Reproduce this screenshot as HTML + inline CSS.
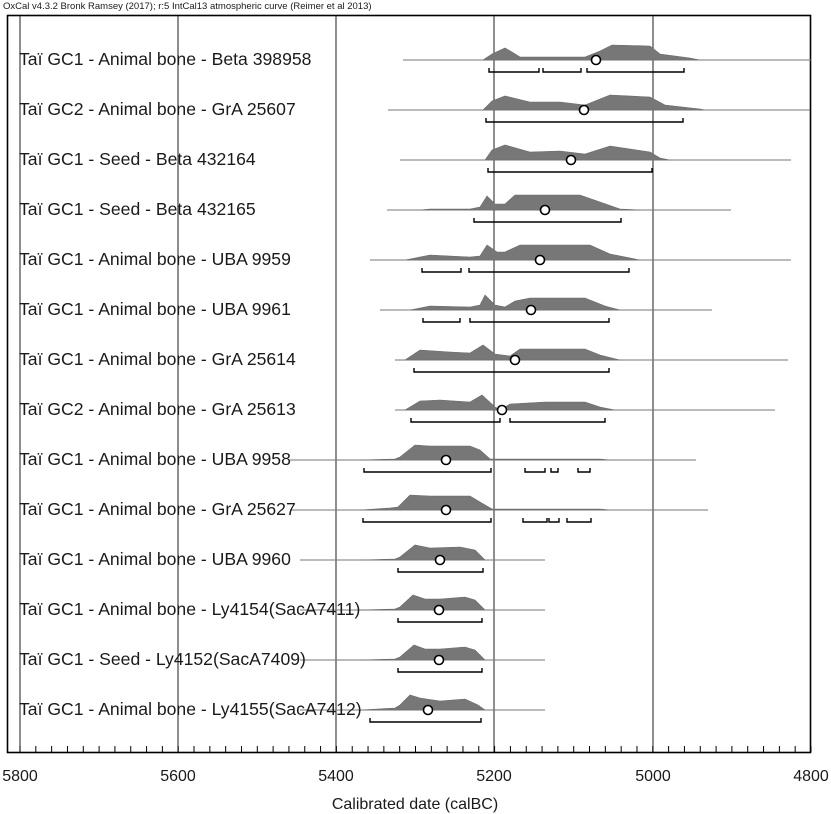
<!DOCTYPE html>
<html><head><meta charset="utf-8"><style>
body{margin:0;background:#fff;width:831px;height:814px;overflow:hidden}
svg{display:block}
text{font-family:"Liberation Sans",Arial,sans-serif;fill:#1a1a1a}
</style></head><body>
<svg id="s" width="831" height="814" xmlns="http://www.w3.org/2000/svg">
<text x="3" y="9" font-size="9.5">OxCal v4.3.2 Bronk Ramsey (2017); r:5 IntCal13 atmospheric curve (Reimer et al 2013)</text>
<rect x="7.5" y="15.5" width="803" height="737" fill="none" stroke="#000" stroke-width="1.6"/>
<g id="grid"></g><g id="rows"></g><g id="ticks"></g>
<g font-size="16" text-anchor="middle">
<text x="20" y="781">5800</text><text x="178" y="781">5600</text><text x="336" y="781">5400</text>
<text x="494" y="781">5200</text><text x="653" y="781">5000</text><text x="811" y="781">4800</text>
</g>
<text x="415" y="809" font-size="16" text-anchor="middle">Calibrated date (calBC)</text>
</svg>
<script>
var NS="http://www.w3.org/2000/svg",s=document.getElementById('s');
function el(p,t,a,txt){var e=document.createElementNS(NS,t);for(var k in a)e.setAttribute(k,a[k]);if(txt)e.textContent=txt;document.getElementById(p).appendChild(e);return e;}
[20,178,336,494,653].forEach(function(x){el('grid','line',{x1:x,x2:x,y1:16,y2:752,stroke:'#333','stroke-width':1.1});});
for(var i=0;i<=50;i++){var x=20+i*15.82;el('ticks','line',{x1:x,x2:x,y1:746,y2:752,stroke:'#000','stroke-width':1});}
var R=[
["Taï GC1 - Animal bone - Beta 398958",403,811,[[483,0],[492,6],[505,12],[512,8],[520,3],[585,3],[600,9],[612,15],[650,14],[660,6],[690,2],[700,0]],596,[[489,539],[543,581],[587,684]]],
["Taï GC2 - Animal bone - GrA 25607",388,810,[[483,0],[492,9],[505,14],[530,8],[560,8],[585,5],[610,15],[650,13],[665,5],[700,1],[705,0]],584,[[486,683]]],
["Taï GC1 - Seed - Beta 432164",400,791,[[485,0],[492,10],[505,15],[530,8],[560,9],[585,6],[610,14],[650,8],[660,2],[670,0]],571,[[488,652]]],
["Taï GC1 - Seed - Beta 432165",387,731,[[420,0],[430,1],[470,1],[480,3],[487,14],[495,6],[505,6],[515,15],[580,15],[600,8],[620,1],[640,0]],545,[[474,621]]],
["Taï GC1 - Animal bone - UBA 9959",370,791,[[405,0],[430,5],[470,3],[480,4],[487,15],[497,8],[505,8],[520,15],[590,15],[610,6],[640,0]],540,[[422,461],[469,629]]],
["Taï GC1 - Animal bone - UBA 9961",380,712,[[410,0],[430,4],[470,3],[480,5],[485,15],[495,5],[505,3],[515,9],[530,12],[585,12],[605,4],[620,0]],531,[[423,460],[470,609]]],
["Taï GC1 - Animal bone - GrA 25614",395,788,[[405,0],[420,10],[450,8],[470,7],[483,15],[495,6],[510,4],[520,11],[585,11],[600,5],[620,0]],515,[[414,609]]],
["Taï GC2 - Animal bone - GrA 25613",395,775,[[405,0],[420,9],[440,10],[470,8],[482,15],[495,3],[500,0],[510,6],[545,8],[585,8],[600,3],[615,0]],502,[[411,500],[510,605]]],
["Taï GC1 - Animal bone - UBA 9958",290,696,[[360,0],[395,1],[400,3],[415,15],[430,14],[470,14],[480,10],[490,1],[600,1],[610,0]],446,[[364,491],[525,545],[551,558],[578,590]]],
["Taï GC1 - Animal bone - GrA 25627",290,708,[[360,0],[390,2],[398,3],[410,15],[430,14],[470,14],[480,8],[492,1],[600,1],[610,0]],446,[[363,491],[523,547],[549,559],[567,591]]],
["Taï GC1 - Animal bone - UBA 9960",300,545,[[360,0],[395,1],[400,3],[415,15],[430,12],[460,13],[475,10],[485,0]],440,[[398,483]]],
["Taï GC1 - Animal bone - Ly4154(SacA7411)",300,545,[[360,0],[395,1],[400,3],[413,15],[425,11],[440,11],[465,13],[475,10],[485,0]],439,[[398,482]]],
["Taï GC1 - Seed - Ly4152(SacA7409)",300,545,[[360,0],[395,1],[400,3],[414,15],[425,11],[440,11],[465,13],[475,10],[485,0]],439,[[398,482]]],
["Taï GC1 - Animal bone - Ly4155(SacA7412)",300,545,[[360,0],[395,2],[400,5],[410,15],[420,12],[440,9],[465,11],[478,5],[485,0]],428,[[370,481]]]
];
R.forEach(function(r,i){
 var y=60+50*i;
 el('rows','line',{x1:r[1],x2:r[2],y1:y,y2:y,stroke:'#777','stroke-width':1});
 var d='M'+r[3][0][0]+' '+y;r[3].forEach(function(p){d+=' L'+p[0]+' '+(y-p[1]);});d+=' L'+r[3][r[3].length-1][0]+' '+y+'Z';
 el('rows','path',{d:d,fill:'#777',stroke:'#6a6a6a','stroke-width':0.6});
 el('rows','text',{x:19,y:y+5,'font-size':17.6},r[0]);
 el('rows','circle',{cx:r[4],cy:y,r:4.5,fill:'#fff',stroke:'#000','stroke-width':1.6});
 r[5].forEach(function(b){var yy=y+12;el('rows','path',{d:'M'+b[0]+' '+(yy-4)+' V'+yy+' H'+b[1]+' V'+(yy-4),fill:'none',stroke:'#000','stroke-width':1.4});});
});
</script>
</body></html>
